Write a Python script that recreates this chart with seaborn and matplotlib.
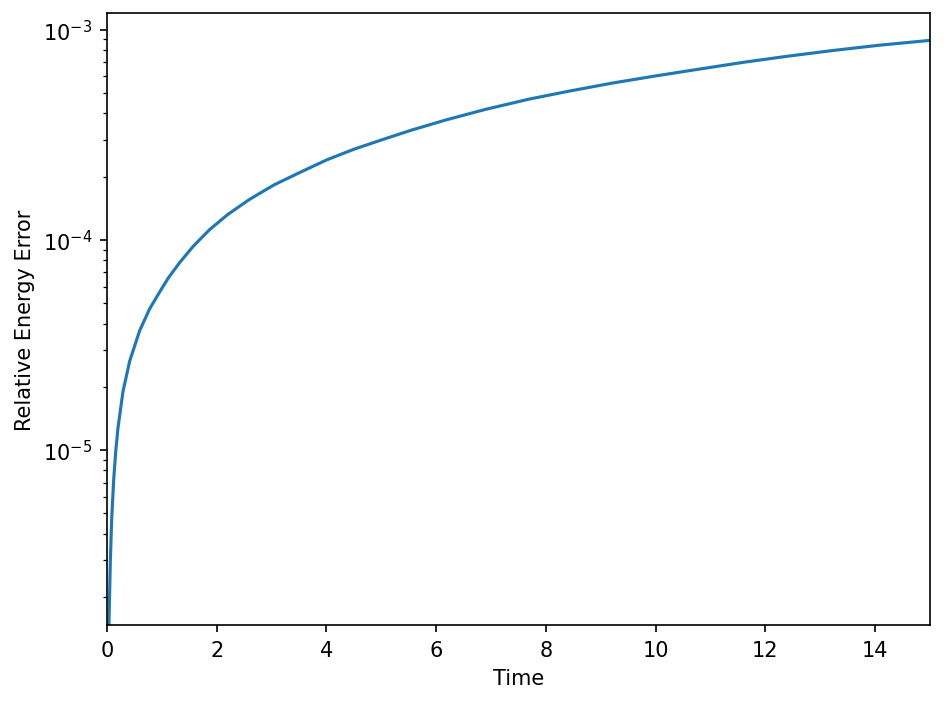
import pandas as pd
import seaborn as sns
import matplotlib
matplotlib.use("Agg")
import matplotlib.pyplot as plt

# values
time = [0.033, 0.036, 0.062, 0.086, 0.122, 0.159, 0.2, 0.292, 0.414, 0.596, 0.778,
        0.96, 1.12, 1.325, 1.568, 1.872, 2.2, 2.6, 3.05, 3.51, 4.0, 4.5, 4.97,
        5.55, 6.19, 6.9, 7.7, 8.45, 9.22, 10.0, 10.8, 11.6, 12.4, 13.2, 14.09, 15.0]
energy_error = [1.35e-6, 1.5e-6, 3.0e-6, 4.7e-6, 7.2e-6, 9.8e-6, 1.27e-5, 1.9e-5, 2.65e-5,
                3.7e-5, 4.7e-5, 5.65e-5, 6.6e-5, 7.8e-5, 9.3e-5, 1.12e-4, 1.32e-4,
                1.56e-4, 1.83e-4, 2.09e-4, 2.4e-4, 2.7e-4, 2.97e-4, 3.33e-4, 3.73e-4,
                4.18e-4, 4.68e-4, 5.12e-4, 5.58e-4, 6.03e-4, 6.5e-4, 7.0e-4, 7.48e-4,
                7.95e-4, 8.45e-4, 8.9e-4]

df = pd.DataFrame({"time": time, "error": energy_error})

fig, ax = plt.subplots(figsize=(6.3, 4.693), dpi=150)
sns.lineplot(data=df, x="time", y="error", color="#1f77b4", linewidth=1.5, ax=ax)

ax.set_yscale("log")
ax.set_xlim(0, 15)
ax.set_ylim(1.47e-6, 1.2e-3)
ax.set_xlabel("Time")
ax.set_ylabel("Relative Energy Error")

plt.subplots_adjust(left=0.1132, right=0.984, bottom=0.1108, top=0.980)
plt.savefig("out.png", dpi=150)
